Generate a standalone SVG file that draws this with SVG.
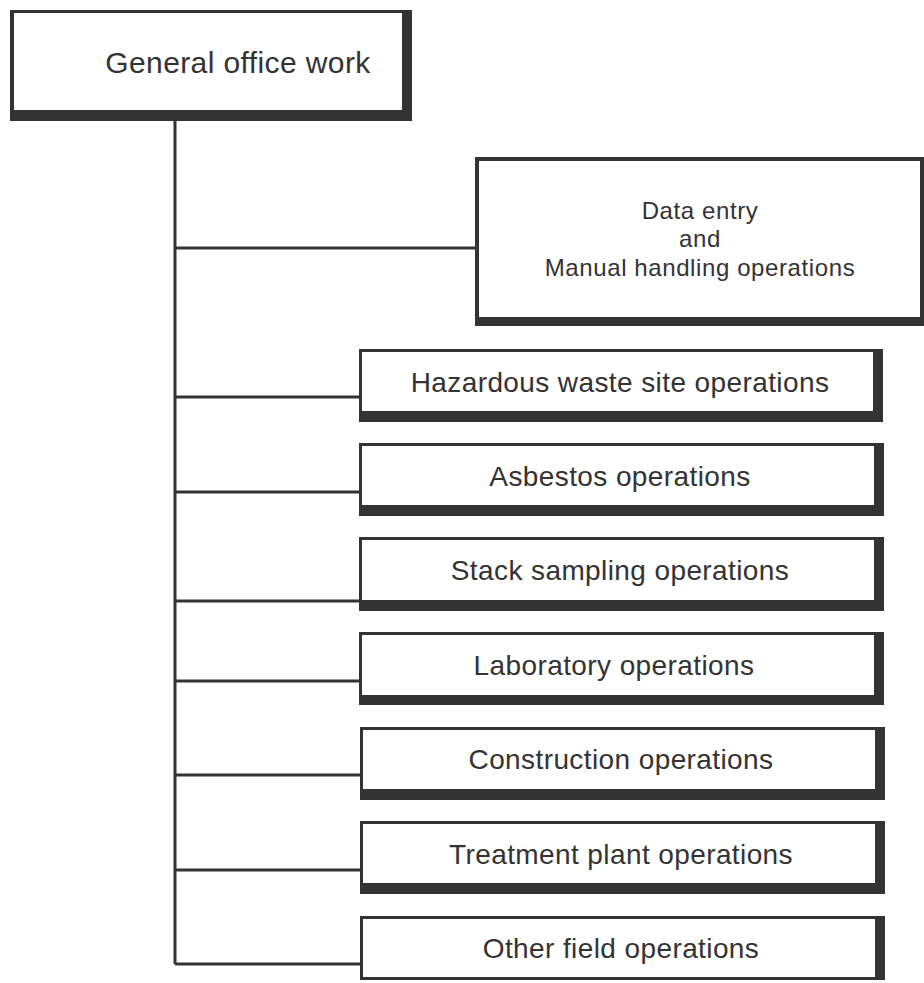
<svg xmlns="http://www.w3.org/2000/svg" width="924" height="983" viewBox="0 0 924 983">
<style>
.frame{fill:#333}
.inner{fill:#fff}
.conn{stroke:#333;stroke-width:3;fill:none}
.lbl{font-family:"Liberation Sans",Arial,sans-serif;font-size:28px;fill:#333;text-anchor:middle;letter-spacing:0.4px}
</style>
<rect width="924" height="983" fill="#fff"/>
<g id="connectors">
<path class="conn" d="M175 121 V964 M175 248 H477 M175 397 H361 M175 492 H361 M175 601 H361 M175 681 H361 M175 775 H361 M175 870 H361 M175 964 H361"/>
</g>
<g id="general">
<rect class="frame" x="10" y="10" width="402" height="111"/>
<rect class="inner" x="14" y="13" width="388" height="97"/>
<text class="lbl" x="238" y="73" style="font-size:30px">General office work</text>
</g>
<g id="dataentry">
<rect class="frame" x="475" y="157" width="449" height="169"/>
<rect class="inner" x="479" y="161" width="441" height="156"/>
<text class="lbl" style="font-size:24px;letter-spacing:0.6px"><tspan x="700" y="219">Data entry</tspan><tspan x="700" y="247">and</tspan><tspan x="700" y="276">Manual handling operations</tspan></text>
</g>
<g id="hazardous">
<rect class="frame" x="359" y="349" width="524" height="73"/>
<rect class="inner" x="362" y="352" width="511" height="59"/>
<text class="lbl" x="620" y="392">Hazardous waste site operations</text>
</g>
<g id="asbestos">
<rect class="frame" x="359" y="443" width="525" height="73"/>
<rect class="inner" x="362" y="446" width="512" height="59"/>
<text class="lbl" x="620" y="486">Asbestos operations</text>
</g>
<g id="stack">
<rect class="frame" x="359" y="537" width="525" height="74"/>
<rect class="inner" x="362" y="540" width="512" height="60"/>
<text class="lbl" x="620" y="580">Stack sampling operations</text>
</g>
<g id="laboratory">
<rect class="frame" x="359" y="632" width="525" height="73"/>
<rect class="inner" x="362" y="635" width="512" height="60"/>
<text class="lbl" x="614" y="675">Laboratory operations</text>
</g>
<g id="construction">
<rect class="frame" x="360" y="727" width="525" height="73"/>
<rect class="inner" x="363" y="730" width="512" height="59"/>
<text class="lbl" x="621" y="769">Construction operations</text>
</g>
<g id="treatment">
<rect class="frame" x="360" y="821" width="525" height="73"/>
<rect class="inner" x="363" y="824" width="512" height="59"/>
<text class="lbl" x="621" y="864">Treatment plant operations</text>
</g>
<g id="other">
<rect class="frame" x="360" y="916" width="525" height="64"/>
<rect class="inner" x="363" y="919" width="512" height="58"/>
<text class="lbl" x="621" y="958">Other field operations</text>
</g>
</svg>
